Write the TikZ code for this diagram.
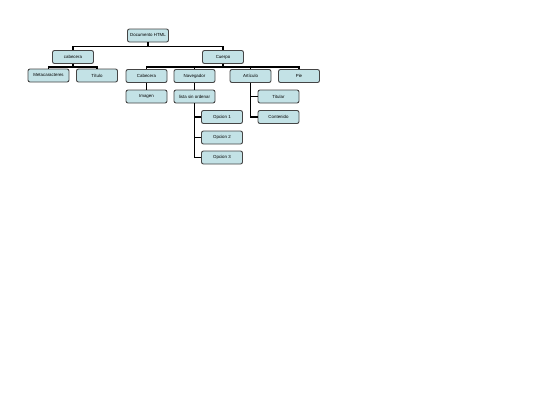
\documentclass[tikz,border=0pt]{standalone}
\usepackage{fontspec}
\setmainfont{Liberation Sans}
\begin{document}
\begin{tikzpicture}[x=1pt,y=-1pt,
  box/.style={draw=boxborder,fill=boxfill,line width=0.9pt,rounded corners=2pt,
    minimum width=41pt,minimum height=13pt,inner sep=0pt,
    font=\fontsize{4.4}{5}\selectfont},
  conn/.style={line width=1.4pt,black}]
\definecolor{boxfill}{HTML}{C3E2E6}
\definecolor{boxborder}{HTML}{454545}
\useasboundingbox (0,0) rectangle (540,405);
\node[box] (doc) at (148,35.5) {Documento HTML};
\node[box] (cab) at (73,57) {cabecera};
\node[box] (cue) at (223,57) {Cuerpo};
\node[box] (meta) at (48.5,75.5) {Metacaracteres};
\node[box] (tit) at (97,75.5) {Título};
\node[box] (cab2) at (146.5,76) {Cabecera};
\node[box] (nav) at (194.5,76) {Navegador};
\node[box] (art) at (250.5,76) {Artículo};
\node[box] (pie) at (299,76) {Pie};
\node[box] (img) at (146.5,96.5) {Imagen};
\node[box] (lista) at (194.5,96.5) {lista sin ordenar};
\node[box] (op1) at (222,117) {Opcion 1};
\node[box] (op2) at (222,137.5) {Opcion 2};
\node[box] (op3) at (222,157.5) {Opcion 3};
\node[box] (titular) at (278.5,96.5) {Titular};
\node[box] (cont) at (278.5,117) {Contenido};
% top level
\draw[conn] (doc.south) -- ++(0,4) -| (cab.north);
\draw[conn] (doc.south) -- ++(0,4) -| (cue.north);
% cabecera
\draw[conn] (cab.south) -- ++(0,3) -| (meta.north);
\draw[conn] (cab.south) -- ++(0,3) -| (tit.north);
% cuerpo
\draw[conn] (cue.south) -- ++(0,3) -| (cab2.north);
\draw[conn] (cue.south) -- ++(0,3) -| (nav.north);
\draw[conn] (cue.south) -- ++(0,3) -| (art.north);
\draw[conn] (cue.south) -- ++(0,3) -| (pie.north);
% vertical children
\draw[conn] (cab2.south) -- (img.north);
\draw[conn] (nav.south) -- (lista.north);
\draw[conn] (lista.south) |- (op1.west);
\draw[conn] (lista.south) |- (op2.west);
\draw[conn] (lista.south) |- (op3.west);
\draw[conn] (art.south) |- (titular.west);
\draw[conn] (art.south) |- (cont.west);
\end{tikzpicture}
\end{document}
